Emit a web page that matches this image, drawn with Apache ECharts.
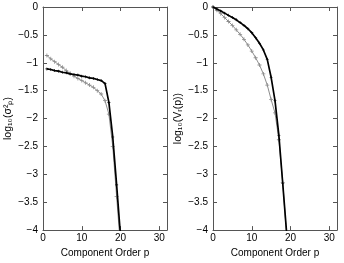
<!DOCTYPE html>
<html>
<head>
<meta charset="utf-8">
<script src="https://cdn.jsdelivr.net/npm/echarts@6/dist/echarts.min.js"></script>
<style>
  html, body { margin: 0; padding: 0; background: #fff; }
  #chartContainer { width: 344px; height: 263px; }
</style>
</head>
<body>
<div id="chartContainer"></div>
<script>
// left panel: log10 of component variance
const orderLeft = [1, 2, 3, 4, 5, 6, 7, 8, 9, 10, 11, 12, 13, 14, 15, 16, 17, 18, 19, 20];
const leftGray = [-0.87, -0.93, -0.98, -1.03, -1.08, -1.14, -1.19, -1.24, -1.28, -1.32,
                  -1.36, -1.40, -1.44, -1.50, -1.56, -1.68, -1.92, -2.50, -3.40, -4.30];
const leftBlack = [-1.11, -1.12, -1.14, -1.15, -1.17, -1.18, -1.20, -1.21, -1.22, -1.24,
                   -1.25, -1.27, -1.28, -1.30, -1.32, -1.37, -1.71, -2.33, -3.19, -4.10];

// right panel: log10 of residual V_r(p)
const orderRight = [0, 1, 2, 3, 4, 5, 6, 7, 8, 9, 10, 11, 12, 13, 14, 15, 16, 17, 18, 19];
const rightGray = [0, -0.06, -0.12, -0.19, -0.26, -0.33, -0.41, -0.49, -0.58, -0.68,
                   -0.79, -0.91, -1.04, -1.20, -1.40, -1.66, -1.90, -2.38, -3.15, -4.10];
const rightBlack = [0, -0.035, -0.07, -0.11, -0.15, -0.19, -0.23, -0.28, -0.33, -0.39,
                    -0.46, -0.55, -0.65, -0.77, -0.94, -1.26, -1.68, -2.30, -3.17, -4.05];

const xTicks = { min: 0, max: 32, interval: 10 };
const yTicks = { min: -4, max: 0, interval: 0.5 };

const FONT = 'Liberation Sans, Arial, sans-serif';
const AXIS_COLOR = '#555';
const plusSymbol = 'path://M4,0H6V4H10V6H6V10H4V6H0V4H4Z';

function fmt(v) {
    return String(v).replace('-', '\u2212');
}

function pairs(xs, ys) {
    return xs.map((x, i) => [x, ys[i]]);
}

function makeX(gridIndex, position, showLabels) {
    return {
        type: 'value', gridIndex: gridIndex, position: position,
        min: xTicks.min, max: xTicks.max, interval: xTicks.interval,
        name: showLabels ? 'Component Order p' : '',
        nameLocation: 'middle', nameGap: 16,
        nameTextStyle: { fontFamily: FONT, fontSize: 10, color: '#000' },
        axisLine: { show: true, onZero: false, lineStyle: { color: AXIS_COLOR, width: 1 } },
        axisTick: { show: true, inside: true, length: 4, lineStyle: { color: AXIS_COLOR } },
        axisLabel: { show: showLabels, fontFamily: FONT, fontSize: 10, color: '#000', margin: 3,
                     showMaxLabel: false, formatter: fmt },
        splitLine: { show: false }
    };
}

function makeY(gridIndex, position, name) {
    return {
        type: 'value', gridIndex: gridIndex, position: position,
        min: yTicks.min, max: yTicks.max, interval: yTicks.interval,
        name: name || '', nameLocation: 'middle', nameGap: 29, nameRotate: 90,
        nameTextStyle: { fontFamily: FONT, fontSize: 10.5, color: '#000' },
        axisLine: { show: true, onZero: false, lineStyle: { color: AXIS_COLOR, width: 1 } },
        axisTick: { show: true, inside: true, length: 4, lineStyle: { color: AXIS_COLOR } },
        axisLabel: { show: !!name, fontFamily: FONT, fontSize: 10, color: '#000', margin: 5, formatter: fmt },
        splitLine: { show: false }
    };
}

function graySeries(xi, yi, data) {
    return {
        type: 'line', xAxisIndex: xi, yAxisIndex: yi, data: data,
        symbol: plusSymbol, symbolSize: 4, showSymbol: true,
        lineStyle: { color: '#8c8c8c', width: 1 },
        itemStyle: { color: '#8c8c8c' },
        animation: false, z: 2
    };
}

function blackSeries(xi, yi, data) {
    return {
        type: 'line', xAxisIndex: xi, yAxisIndex: yi, data: data,
        symbol: plusSymbol, symbolSize: 3, showSymbol: true,
        lineStyle: { color: '#000', width: 1.7 },
        itemStyle: { color: '#000' },
        animation: false, z: 3
    };
}

const myChart = echarts.init(document.getElementById('chartContainer'), null, { renderer: 'canvas' });

const option = {
    backgroundColor: '#fff',
    animation: false,
    grid: [
        { left: 43, top: 7, width: 124, height: 231 },
        { left: 213, top: 7, width: 124, height: 231 }
    ],
    xAxis: [
        makeX(0, 'bottom', true),
        makeX(0, 'top', false),
        makeX(1, 'bottom', true),
        makeX(1, 'top', false)
    ],
    yAxis: [
        makeY(0, 'left', 'log\u2081\u2080(\u03c3\u00b2\u209a)'),
        makeY(0, 'right', ''),
        makeY(1, 'left', 'log\u2081\u2080(V\u1d63(p))'),
        makeY(1, 'right', '')
    ],
    series: [
        graySeries(0, 0, pairs(orderLeft, leftGray)),
        blackSeries(0, 0, pairs(orderLeft, leftBlack)),
        graySeries(2, 2, pairs(orderRight, rightGray)),
        blackSeries(2, 2, pairs(orderRight, rightBlack))
    ]
};

myChart.setOption(option);
</script>
</body>
</html>
